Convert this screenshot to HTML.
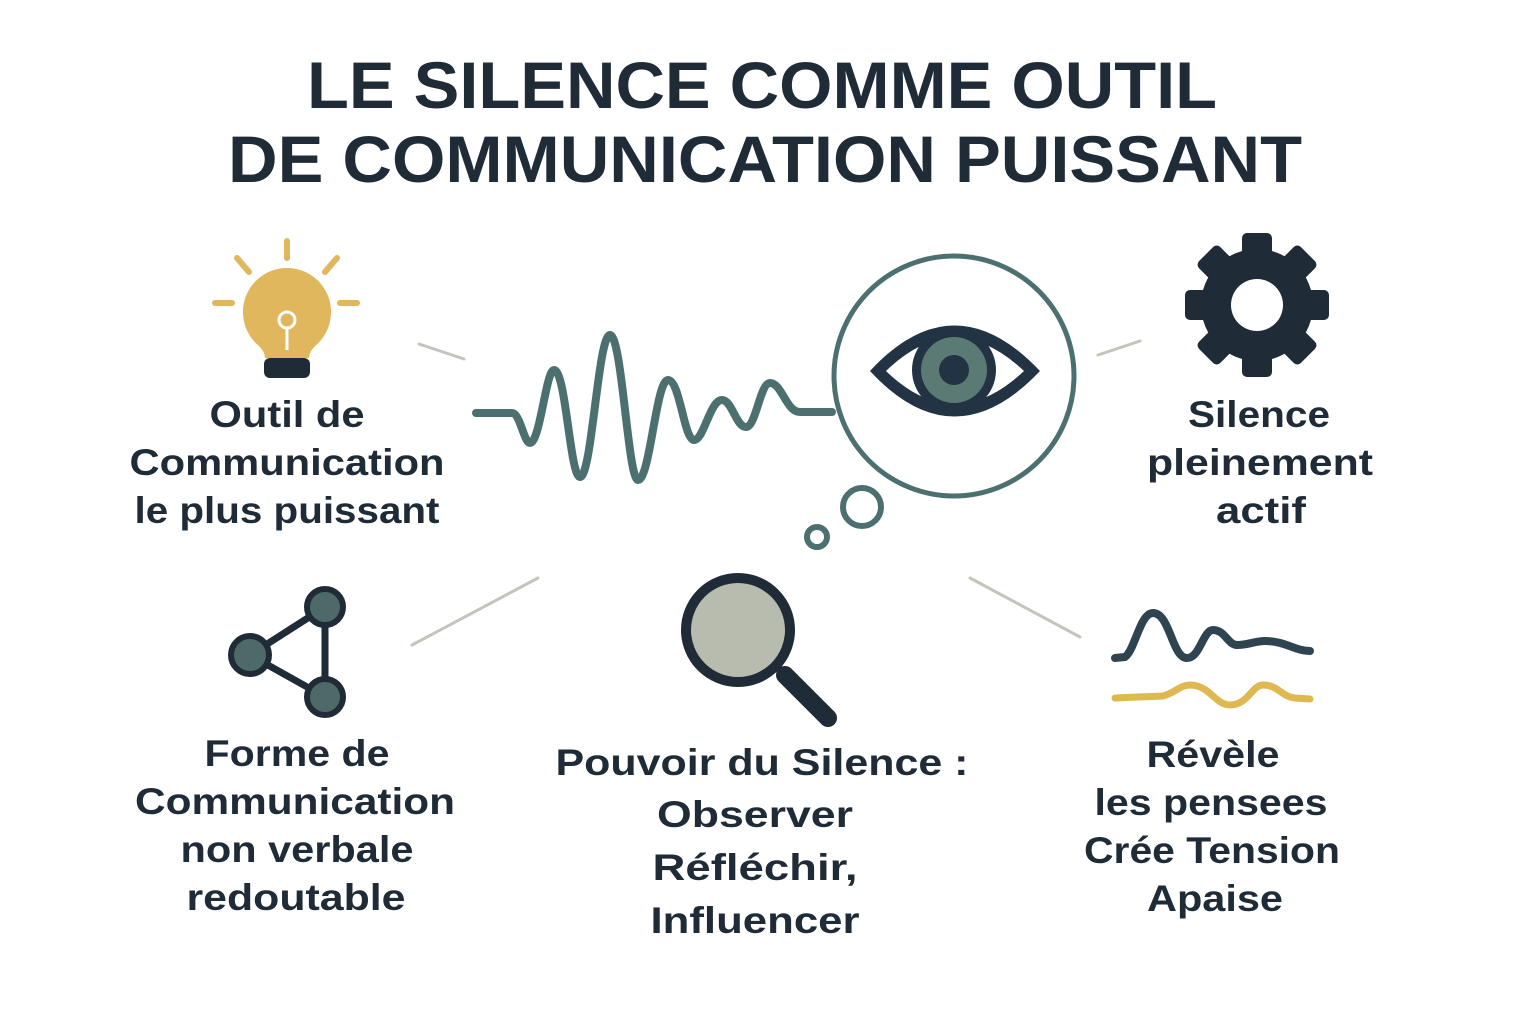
<!DOCTYPE html>
<html><head><meta charset="utf-8"><style>
html,body{margin:0;padding:0;background:#fff;}
body{width:1536px;height:1024px;overflow:hidden;}
svg text{font-family:"Liberation Sans",sans-serif;font-weight:bold;fill:#1f2b36;text-anchor:middle;}
</style></head><body>
<svg width="1536" height="1024" viewBox="0 0 1536 1024" xmlns="http://www.w3.org/2000/svg">
<text x="762" y="108" font-size="66" textLength="910" lengthAdjust="spacingAndGlyphs">LE SILENCE COMME OUTIL</text>
<text x="765" y="182" font-size="66" textLength="1074" lengthAdjust="spacingAndGlyphs">DE COMMUNICATION PUISSANT</text>

<g stroke="#c3c4bb" stroke-width="3" stroke-linecap="round">
<line x1="419" y1="344" x2="464" y2="359"/>
<line x1="1098" y1="355" x2="1140" y2="341"/>
<line x1="412" y1="645" x2="538" y2="578"/>
<line x1="970" y1="578" x2="1080" y2="637"/>
</g>

<g stroke="#e0b75c" stroke-width="6" stroke-linecap="round">
<line x1="287" y1="241" x2="287" y2="258"/>
<line x1="237" y1="258" x2="249" y2="272"/>
<line x1="337" y1="258" x2="325" y2="272"/>
<line x1="215" y1="303" x2="232" y2="303"/>
<line x1="340" y1="303" x2="357" y2="303"/>
</g>
<path d="M287 268 a44 44 0 0 1 28 78 q-6 6 -6 12 h-44 q0 -6 -6 -12 a44 44 0 0 1 28 -78z" fill="#e0b75c"/>
<circle cx="287" cy="320" r="8" fill="none" stroke="#fff" stroke-width="3"/>
<line x1="287" y1="328" x2="287" y2="350" stroke="#fff" stroke-width="3"/>
<rect x="264" y="358" width="46" height="20" rx="6" fill="#1f2b36"/>

<path d="M476 413 L512 413 C520 413 524 443 530 443 C540 443 546 370 554 370 C566 370 570 477 580 477 C592 477 598 335 610 335 C622 335 628 480 638 480 C650 480 656 380 668 380 C680 380 684 440 694 440 C704 440 710 400 722 400 C732 400 736 427 746 427 C756 427 760 383 770 383 C782 383 786 412 800 412 L832 412" fill="none" stroke="#4c7070" stroke-width="8" stroke-linecap="round" stroke-linejoin="round"/>
<circle cx="954" cy="376" r="120" fill="none" stroke="#4c7070" stroke-width="5"/>
<circle cx="862" cy="507" r="19" fill="none" stroke="#4c7070" stroke-width="6"/>
<circle cx="817" cy="537" r="10" fill="none" stroke="#4c7070" stroke-width="6"/>
<path d="M870 371 Q954 280 1040 371 Q954 462 870 371Z" fill="#223344"/>
<path d="M886 371 Q954 305 1024 371 Q954 437 886 371Z" fill="#fff"/>
<circle cx="954" cy="370" r="42" fill="#223344"/>
<circle cx="954" cy="370" r="33" fill="#5c7a74"/>
<circle cx="954" cy="370" r="15" fill="#223344"/>

<g fill="#1f2b36" transform="translate(1257,305)">
<circle r="56"/>
<g id="t"><rect x="-15" y="-72" width="30" height="30" rx="5"/></g>
<use href="#t" transform="rotate(45)"/><use href="#t" transform="rotate(90)"/><use href="#t" transform="rotate(135)"/>
<use href="#t" transform="rotate(180)"/><use href="#t" transform="rotate(225)"/><use href="#t" transform="rotate(270)"/><use href="#t" transform="rotate(315)"/>
<circle r="26" fill="#fff"/>
</g>

<g stroke="#1f2b36" stroke-width="7">
<line x1="250" y1="655" x2="325" y2="607"/>
<line x1="250" y1="655" x2="325" y2="697"/>
<line x1="325" y1="607" x2="325" y2="697"/>
</g>
<g fill="#4d6a68" stroke="#1f2b36" stroke-width="6">
<circle cx="250" cy="655" r="19"/><circle cx="325" cy="607" r="18"/><circle cx="325" cy="697" r="18"/>
</g>

<line x1="785" y1="675" x2="828" y2="718" stroke="#1f2b36" stroke-width="18" stroke-linecap="round"/>
<circle cx="738" cy="630" r="52" fill="#b8bcae" stroke="#1f2b36" stroke-width="10"/>

<path d="M1115 658 L1125 657 C1135 650 1140 613 1153 613 C1170 613 1172 658 1187 658 C1200 658 1203 630 1213 630 C1225 630 1228 645 1237 645 C1248 645 1255 641 1265 641 C1285 641 1295 651 1310 651" fill="none" stroke="#2e4450" stroke-width="8" stroke-linecap="round"/>
<path d="M1115 698 L1163 696 C1175 693 1180 685 1190 685 C1210 685 1215 705 1230 705 C1248 705 1252 685 1263 685 C1278 685 1282 697 1295 698 L1310 699" fill="none" stroke="#dfb851" stroke-width="7" stroke-linecap="round"/>

<g font-size="37">
<text x="287" y="427" textLength="155" lengthAdjust="spacingAndGlyphs">Outil de</text>
<text x="287" y="475" textLength="315" lengthAdjust="spacingAndGlyphs">Communication</text>
<text x="287" y="523" textLength="305" lengthAdjust="spacingAndGlyphs">le plus puissant</text>
<text x="1259" y="427" textLength="142" lengthAdjust="spacingAndGlyphs">Silence</text>
<text x="1260" y="475" textLength="226" lengthAdjust="spacingAndGlyphs">pleinement</text>
<text x="1261" y="523" textLength="90" lengthAdjust="spacingAndGlyphs">actif</text>
<text x="297" y="766" textLength="185" lengthAdjust="spacingAndGlyphs">Forme de</text>
<text x="295" y="814" textLength="320" lengthAdjust="spacingAndGlyphs">Communication</text>
<text x="297" y="862" textLength="233" lengthAdjust="spacingAndGlyphs">non verbale</text>
<text x="296" y="910" textLength="219" lengthAdjust="spacingAndGlyphs">redoutable</text>
<text x="762" y="775" textLength="413" lengthAdjust="spacingAndGlyphs">Pouvoir du Silence :</text>
<text x="755" y="827" textLength="196" lengthAdjust="spacingAndGlyphs">Observer</text>
<text x="755" y="880" textLength="205" lengthAdjust="spacingAndGlyphs">Réfléchir,</text>
<text x="755" y="933" textLength="209" lengthAdjust="spacingAndGlyphs">Influencer</text>
<text x="1213" y="767" textLength="133" lengthAdjust="spacingAndGlyphs">Révèle</text>
<text x="1211" y="815" textLength="233" lengthAdjust="spacingAndGlyphs">les pensees</text>
<text x="1212" y="863" textLength="256" lengthAdjust="spacingAndGlyphs">Crée Tension</text>
<text x="1215" y="911" textLength="136" lengthAdjust="spacingAndGlyphs">Apaise</text>
</g>
</svg>
</body></html>
